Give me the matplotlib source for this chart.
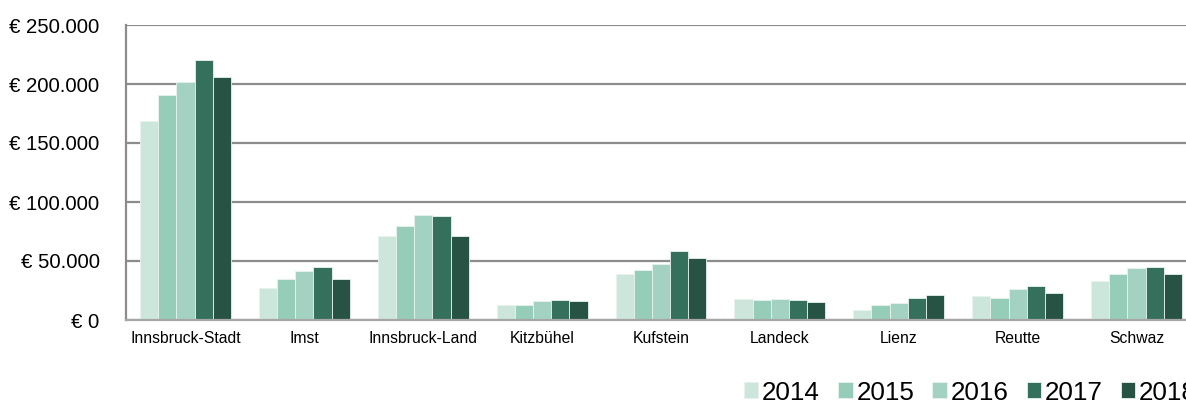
import numpy as np
import matplotlib.pyplot as plt
from matplotlib.ticker import FuncFormatter

plt.rcParams['font.family'] = ['Liberation Sans', 'DejaVu Sans']

districts = ['Innsbruck-Stadt', 'Imst', 'Innsbruck-Land', 'Kitzbühel', 'Kufstein',
             'Landeck', 'Lienz', 'Reutte', 'Schwaz']
years = ['2014', '2015', '2016', '2017', '2018']

v2014 = [168800, 27200, 71500, 12300, 39300, 18200, 8600, 20100, 32800]
v2015 = [190800, 34900, 79400, 13100, 42700, 17100, 12300, 18400, 39100]
v2016 = [201500, 41900, 89300, 15900, 47800, 17900, 14800, 26600, 43800]
v2017 = [220600, 44700, 87800, 17300, 58800, 17100, 19000, 29200, 45300]
v2018 = [206000, 34900, 70900, 15700, 52300, 15100, 21000, 23300, 38700]
series = [v2014, v2015, v2016, v2017, v2018]

colors = ['#cce6dc', '#96cdb9', '#a3d2c3', '#35705c', '#275345']

fig = plt.figure(figsize=(11.86, 4.03), dpi=100)
ax = fig.add_axes([126 / 1186, 83 / 403, 1070 / 1186, 295 / 403])

x = np.arange(len(districts))
w = 0.153
for i, (vals, c) in enumerate(zip(series, colors)):
    ax.bar(x + (i - 2) * w, vals, width=w, color=c, edgecolor='#e8f2ee',
           linewidth=0.6, label=years[i], zorder=3)

ax.set_xlim(-0.5, len(districts) - 0.5)
ax.set_ylim(0, 250000)
ax.set_yticks(np.arange(0, 250001, 50000))
ax.yaxis.set_major_formatter(FuncFormatter(
    lambda v, p: '€ ' + f'{int(v):,}'.replace(',', '.')))
ax.set_xticks(x)
ax.set_xticklabels(districts, fontsize=11.3)
ax.tick_params(axis='y', labelsize=14.7, length=0, pad=19)
ax.tick_params(axis='x', length=0, pad=8)

ax.grid(axis='y', color='#8c8c8c', linewidth=1.6, zorder=0)
for s in ['top', 'right']:
    ax.spines[s].set_visible(False)
ax.spines['left'].set_color('#8c8c8c')
ax.spines['left'].set_linewidth(1.6)
ax.spines['bottom'].set_color('#a6a6a6')
ax.spines['bottom'].set_linewidth(1.6)
ax.spines['bottom'].set_zorder(4)

fig.legend(loc='center left', bbox_to_anchor=(744 / 1186, 10.5 / 403), ncol=5,
           frameon=False, fontsize=18.7, handlelength=0.55, handleheight=0.55,
           handletextpad=0.15, columnspacing=0.7, borderaxespad=0, borderpad=0)

fig.savefig('out.png', dpi=100)
